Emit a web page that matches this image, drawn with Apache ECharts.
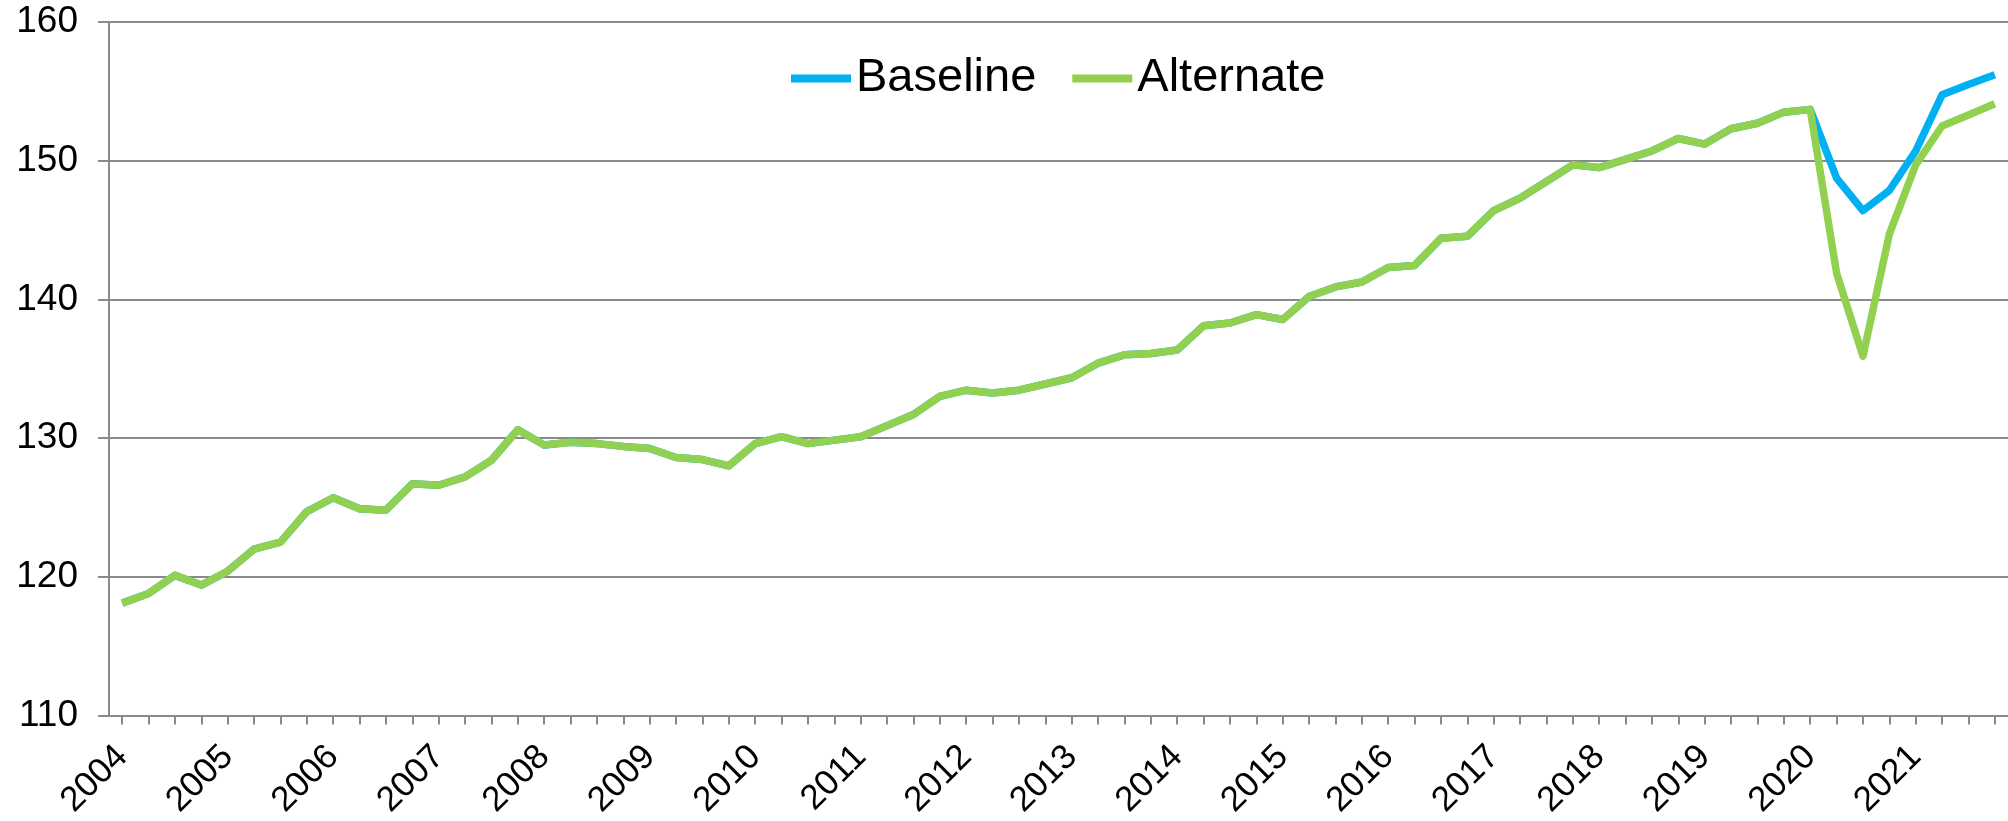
<!DOCTYPE html>
<html>
<head>
<meta charset="utf-8">
<script src="https://cdn.jsdelivr.net/npm/echarts@6/dist/echarts.min.js"></script>
<style>
html,body{margin:0;padding:0;background:#fff;}
#chart{width:2008px;height:821px;}
</style>
</head>
<body>
<div id="chart"></div>
<script>
// Quarterly categories 2004 Q1 .. 2021 Q4
const years = [2004,2005,2006,2007,2008,2009,2010,2011,2012,2013,2014,2015,2016,2017,2018,2019,2020,2021];
const quarters = ['Q1','Q2','Q3','Q4'];
const categories = [];
years.forEach(y => quarters.forEach(q => categories.push(y + ' ' + q)));

const baseline = [
  118.1, 118.8, 120.1, 119.4,
  120.4, 122.0, 122.5, 124.7,
  125.7, 124.9, 124.8, 126.7,
  126.6, 127.2, 128.4, 130.6,
  129.5, 129.7, 129.6, 129.4,
  129.25, 128.6, 128.45, 128.0,
  129.6, 130.1, 129.6, 129.85,
  130.1, 130.9, 131.7, 133.0,
  133.45, 133.25, 133.45, 133.9,
  134.35, 135.4, 136.0, 136.1,
  136.35, 138.1, 138.3, 138.9,
  138.55, 140.2, 140.9, 141.25,
  142.3, 142.45, 144.4, 144.55,
  146.4, 147.3, 148.5, 149.7,
  149.5, 150.1, 150.7, 151.6,
  151.2, 152.3, 152.7, 153.5,
  153.7, 148.75, 146.4, 147.85,
  150.7, 154.75, 155.5, 156.2
];
const alternate = [
  118.1, 118.8, 120.1, 119.4,
  120.4, 122.0, 122.5, 124.7,
  125.7, 124.9, 124.8, 126.7,
  126.6, 127.2, 128.4, 130.6,
  129.5, 129.7, 129.6, 129.4,
  129.25, 128.6, 128.45, 128.0,
  129.6, 130.1, 129.6, 129.85,
  130.1, 130.9, 131.7, 133.0,
  133.45, 133.25, 133.45, 133.9,
  134.35, 135.4, 136.0, 136.1,
  136.35, 138.1, 138.3, 138.9,
  138.55, 140.2, 140.9, 141.25,
  142.3, 142.45, 144.4, 144.55,
  146.4, 147.3, 148.5, 149.7,
  149.5, 150.1, 150.7, 151.6,
  151.2, 152.3, 152.7, 153.5,
  153.7, 141.9, 135.9, 144.7,
  149.7, 152.5, 153.3, 154.1
];
const seriesNames = ['Baseline', 'Alternate'];
const yTicks = [110, 120, 130, 140, 150, 160];

const FONT = '"Liberation Sans", Arial, sans-serif';
const GRAY = '#8a8a8a';

const chart = echarts.init(document.getElementById('chart'), null, {renderer: 'canvas'});
chart.setOption({
  animation: false,
  backgroundColor: '#ffffff',
  legend: {
    data: seriesNames,
    left: 786,
    top: 50,
    itemWidth: 60,
    itemHeight: 8,
    itemGap: 36,
    icon: 'rect',
    textStyle: {fontFamily: FONT, fontSize: 47, color: '#000'}
  },
  grid: {
    left: 109,
    top: 22,
    bottom: 104,
    width: 72 * 26.6,
    containLabel: false
  },
  xAxis: {
    type: 'category',
    data: categories,
    boundaryGap: true,
    axisLine: {lineStyle: {color: GRAY, width: 2}},
    axisTick: {show: true, alignWithLabel: true, interval: 0, length: 9, lineStyle: {color: GRAY, width: 2}},
    axisLabel: {
      interval: 3,
      rotate: 45,
      margin: 36,
      fontFamily: FONT,
      fontSize: 35,
      color: '#000',
      formatter: v => v.split(' ')[0]
    },
    splitLine: {show: false}
  },
  yAxis: {
    type: 'value',
    min: yTicks[0],
    max: yTicks[yTicks.length - 1],
    interval: 10,
    axisLine: {show: true, lineStyle: {color: GRAY, width: 2}},
    axisTick: {show: true, length: 11, lineStyle: {color: GRAY, width: 2}},
    axisLabel: {fontFamily: FONT, fontSize: 37, color: '#000', margin: 31},
    splitLine: {lineStyle: {color: GRAY, width: 2}}
  },
  series: [
    {
      name: seriesNames[0],
      type: 'line',
      data: baseline,
      symbol: 'none',
      color: '#00b0f0',
      lineStyle: {color: '#00b0f0', width: 7.5, join: 'round'}
    },
    {
      name: seriesNames[1],
      type: 'line',
      data: alternate,
      symbol: 'none',
      color: '#92d050',
      lineStyle: {color: '#92d050', width: 7.5, join: 'round'}
    }
  ]
});
</script>
</body>
</html>
